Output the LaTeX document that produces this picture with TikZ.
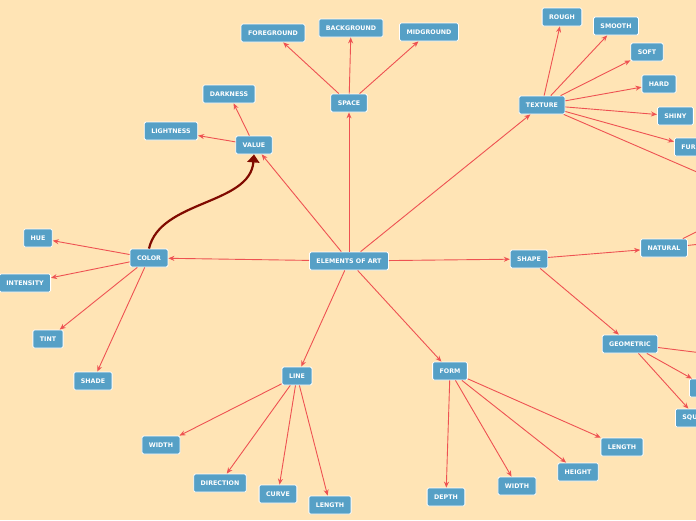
\documentclass[tikz,border=0pt]{standalone}
\usepackage{fontspec}
\setmainfont{DejaVu Sans}
\usetikzlibrary{arrows.meta}
\definecolor{MapBack}{RGB}{255,228,181}
\definecolor{MapBlue}{RGB}{86,160,198}
\definecolor{MapRed}{RGB}{238,82,82}
\definecolor{MapDark}{RGB}{128,10,0}
\tikzset{
    topic/.style={rectangle, rounded corners=1.5pt, draw=white, fill=MapBlue, thick,
        text=white, font=\bfseries\fontsize{6.3}{7}\selectfont, minimum height=18pt, inner xsep=7pt},
    link/.style={draw=MapRed, line width=0.9pt, -{Stealth[length=6pt,width=5pt]}}
}
\begin{document}
\begin{tikzpicture}[x=1pt, y=-1pt]
    \fill[MapBack] (0,0) rectangle (696,520);
    \useasboundingbox (0,0) rectangle (696,520);
    \node[topic] (art) at (349,261) {ELEMENTS OF ART};

    \node[topic] (space) at (349,103) {SPACE};
    \node[topic] (fore) at (273,33) {FOREGROUND};
    \node[topic] (back) at (351,28) {BACKGROUND};
    \node[topic] (mid) at (429,32) {MIDGROUND};

    \node[topic] (value) at (254,145) {VALUE};
    \node[topic] (dark) at (229,94) {DARKNESS};
    \node[topic] (light) at (171,131) {LIGHTNESS};

    \node[topic] (texture) at (542,105) {TEXTURE};
    \node[topic] (rough) at (562,17) {ROUGH};
    \node[topic] (smooth) at (616,26) {SMOOTH};
    \node[topic] (soft) at (647,52) {SOFT};
    \node[topic] (hard) at (659,84) {HARD};
    \node[topic, anchor=west] (shiny) at (657,116) {SHINY};
    \node[topic, anchor=west] (fur) at (674,147) {FURRY};
    \coordinate (texend) at (720,182);

    \node[topic] (color) at (149,258) {COLOR};
    \node[topic] (hue) at (38,238) {HUE};
    \node[topic] (intens) at (25,283) {INTENSITY};
    \node[topic] (tint) at (48,339) {TINT};
    \node[topic] (shade) at (93,381) {SHADE};

    \node[topic] (shape) at (529,259) {SHAPE};
    \node[topic] (natural) at (664,248) {NATURAL};
    \coordinate (natup) at (710,225);
    \coordinate (natright) at (710,243);
    \node[topic] (geo) at (630,344) {GEOMETRIC};
    \node[topic, anchor=west] (squ) at (675,418) {SQUARE};
    \node[topic, anchor=west] (geobox) at (689,388) {CIRCLE};
    \coordinate (georight) at (710,354);

    \node[topic] (line) at (297,376) {LINE};
    \node[topic] (lwidth) at (161,445) {WIDTH};
    \node[topic] (direction) at (220,483) {DIRECTION};
    \node[topic] (curve) at (278,494) {CURVE};
    \node[topic] (llength) at (330,505) {LENGTH};

    \node[topic] (form) at (450,371) {FORM};
    \node[topic] (depth) at (446,497) {DEPTH};
    \node[topic] (fwidth) at (517,486) {WIDTH};
    \node[topic] (height) at (578,472) {HEIGHT};
    \node[topic] (flength) at (622,447) {LENGTH};

    \draw[link] (art) -- (space);
    \draw[link] (art) -- (value);
    \draw[link] (art) -- (texture);
    \draw[link] (art) -- (color);
    \draw[link] (art) -- (shape);
    \draw[link] (art) -- (line);
    \draw[link] (art) -- (form);

    \draw[link] (space) -- (fore);
    \draw[link] (space) -- (back);
    \draw[link] (space) -- (mid);
    \draw[link] (value) -- (dark);
    \draw[link] (value) -- (light);

    \draw[link] (texture) -- (rough);
    \draw[link] (texture) -- (smooth);
    \draw[link] (texture) -- (soft);
    \draw[link] (texture) -- (hard);
    \draw[link] (texture) -- (shiny);
    \draw[link] (texture) -- (fur);
    \draw[draw=MapRed, line width=0.9pt] (texture) -- (texend);

    \draw[link] (color) -- (hue);
    \draw[link] (color) -- (intens);
    \draw[link] (color) -- (tint);
    \draw[link] (color) -- (shade);

    \draw[link] (shape) -- (natural);
    \draw[link] (shape) -- (geo);
    \draw[draw=MapRed, line width=0.9pt] (natural) -- (natup);
    \draw[draw=MapRed, line width=0.9pt] (natural) -- (natright);
    \draw[link] (geo) -- (squ);
    \draw[link] (geo) -- (geobox);
    \draw[draw=MapRed, line width=0.9pt] (geo) -- (georight);

    \draw[link] (line) -- (lwidth);
    \draw[link] (line) -- (direction);
    \draw[link] (line) -- (curve);
    \draw[link] (line) -- (llength);

    \draw[link] (form) -- (depth);
    \draw[link] (form) -- (fwidth);
    \draw[link] (form) -- (height);
    \draw[link] (form) -- (flength);

    % relation arrow
    \draw[MapDark, line width=2.2pt, -{Triangle[length=8pt,width=12pt]}]
        (color.north) .. controls (160,200) and (250,205) .. (value.south);
\end{tikzpicture}
\end{document}
